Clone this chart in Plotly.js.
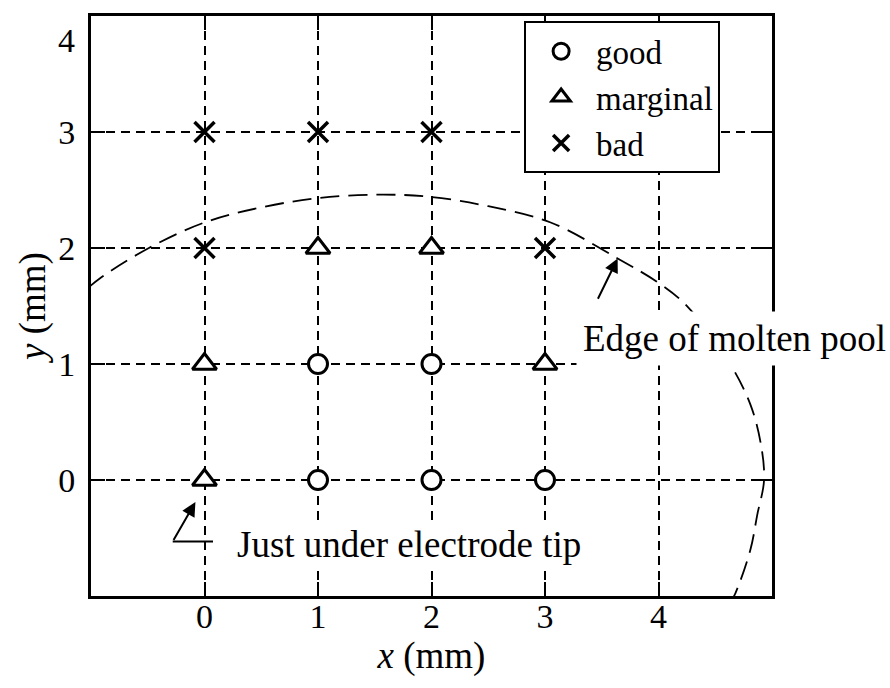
<!DOCTYPE html>
<html>
<head>
<meta charset="utf-8">
<script src="https://cdn.plot.ly/plotly-3.0.1.min.js"></script>
<style>html,body{margin:0;padding:0;background:#fff;}</style>
</head>
<body>
<div id="chart" style="width:890px;height:688px;"></div>
<script>
// ---- data ----
const goodX = [1, 2, 1, 2, 3];
const goodY = [1, 1, 0, 0, 0];
const marginalX = [1, 2, 0, 3, 0];
const marginalY = [2, 2, 1, 1, 0];
const badX = [0, 1, 2, 0, 3];
const badY = [3, 3, 3, 2, 2];
const seriesNames = ['good', 'marginal', 'bad'];

// edge of molten pool
const poolX = [-1.02, -0.92, -0.49, 0, 0.5, 1, 1.54, 2, 2.5, 3.05, 3.64, 4.0, 4.22, 4.45, 4.65, 4.81, 4.90, 4.93, 4.87, 4.81, 4.68, 4.62];
const poolY = [1.66, 1.74, 2.0, 2.22, 2.35, 2.43, 2.46, 2.44, 2.36, 2.22, 1.91, 1.70, 1.53, 1.26, 0.97, 0.65, 0.32, 0, -0.3, -0.6, -0.97, -1.08];

const xTickVals = [0, 1, 2, 3, 4];
const xTickText = ['0', '1', '2', '3', '4'];
const yTickVals = [0, 1, 2, 3];
const yTickText = ['0', '1', '2', '3'];
const yTopLabel = '4';

const serif = 'Liberation Serif, Times New Roman, serif';

const markerLine = {color: 'black', width: 3};
const traces = [
  {x: poolX, y: poolY, mode: 'lines', showlegend: false, hoverinfo: 'skip',
   line: {color: 'black', width: 1.8, dash: '19px,9px', shape: 'spline', smoothing: 1}},
  {x: goodX, y: goodY, mode: 'markers', name: seriesNames[0],
   marker: {symbol: 'circle', size: 19, color: 'white', line: markerLine}},
  {x: marginalX, y: marginalY, mode: 'markers', name: seriesNames[1],
   marker: {symbol: 'triangle-up', size: 21, color: 'white', line: markerLine}},
  {x: badX, y: badY, mode: 'markers', name: seriesNames[2],
   marker: {symbol: 'x-thin', size: 20, color: 'black', line: {color: 'black', width: 3.5}}}
];

const axisCommon = {
  showline: true, mirror: 'ticks', linecolor: 'black', linewidth: 3,
  ticks: 'inside', ticklen: 14, tickwidth: 2, tickcolor: 'black',
  showgrid: true, gridcolor: 'black', gridwidth: 2, griddash: '9px,6px',
  zeroline: false, tickfont: {family: serif, size: 34, color: 'black'},
  tickmode: 'array', fixedrange: true
};

const layout = {
  width: 890, height: 688,
  margin: {l: 91, r: 118, t: 16, b: 92},
  paper_bgcolor: 'white', plot_bgcolor: 'white',
  font: {family: serif, color: 'black'},
  xaxis: Object.assign({}, axisCommon, {
    range: [-1, 5], tickvals: xTickVals, ticktext: xTickText, ticklabelstandoff: -12,
    title: {text: '<i>x</i> (mm)', font: {family: serif, size: 37}, standoff: 0}
  }),
  yaxis: Object.assign({}, axisCommon, {
    range: [-1, 4], tickvals: yTickVals, ticktext: yTickText, ticklabelstandoff: 6,
    title: {text: '<i>y</i> (mm)', font: {family: serif, size: 37}, standoff: 2}
  }),
  legend: {
    x: 0.636, y: 0.991, xanchor: 'left', yanchor: 'top',
    bgcolor: 'white', bordercolor: 'black', borderwidth: 2,
    font: {family: serif, size: 33, color: 'black'}, itemwidth: 60
  },
  shapes: [
    {type: 'line', xref: 'x', yref: 'y', x0: -0.28, y0: -0.53, x1: 0.075, y1: -0.53,
     line: {color: 'black', width: 2}}
  ],
  annotations: [
    {xref: 'paper', yref: 'y', x: 0, y: 3.79, xanchor: 'right', xshift: -14,
     text: yTopLabel, showarrow: false, font: {family: serif, size: 34, color: 'black'}},
    {xref: 'x', yref: 'y', x: 3.64, y: 1.91, axref: 'x', ayref: 'y', ax: 3.46, ay: 1.55,
     text: '', showarrow: true, arrowhead: 2, arrowsize: 1.4, arrowwidth: 2, arrowcolor: 'black'},
    {xref: 'x', yref: 'y', x: 4.67, y: 1.22, text: 'Edge of molten pool', showarrow: false,
     bgcolor: 'white', borderpad: 6, font: {family: serif, size: 37, color: 'black'}},
    {xref: 'x', yref: 'y', x: -0.08, y: -0.19, axref: 'x', ayref: 'y', ax: -0.28, ay: -0.53,
     text: '', showarrow: true, arrowhead: 2, arrowsize: 1.4, arrowwidth: 2, arrowcolor: 'black'},
    {xref: 'x', yref: 'y', x: 0.27, y: -0.56, xanchor: 'left', text: 'Just under electrode tip',
     showarrow: false, bgcolor: 'white', font: {family: serif, size: 37, color: 'black'}}
  ]
};

Plotly.newPlot('chart', traces, layout, {displayModeBar: false, staticPlot: true});
</script>
</body>
</html>
